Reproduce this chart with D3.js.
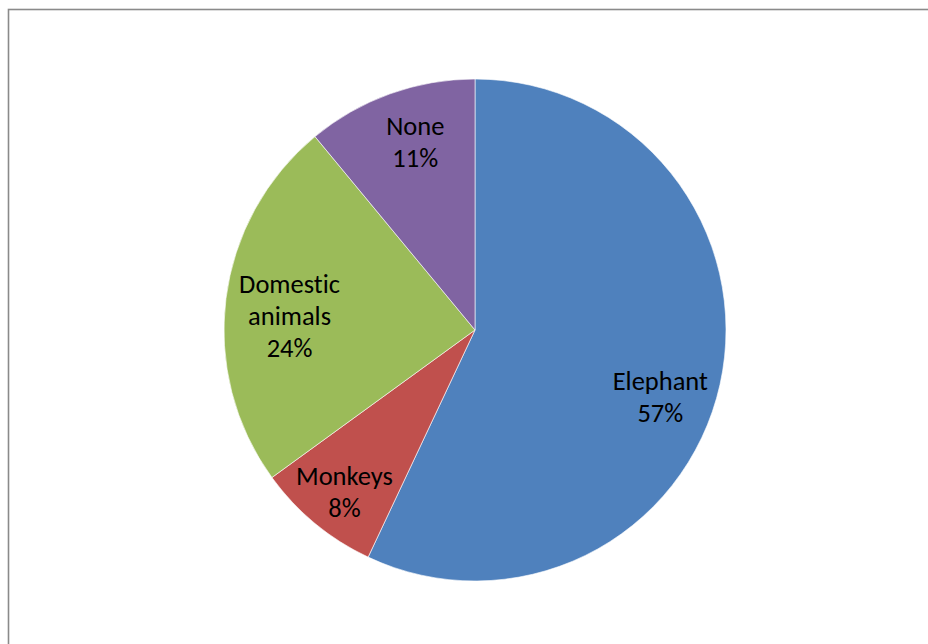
<!DOCTYPE html>
<html>
<head>
<meta charset="utf-8">
<script src="https://cdn.jsdelivr.net/npm/d3@7"></script>
<style>
  html, body { margin: 0; padding: 0; background: #fff; }
  svg { display: block; }
  text { font-variant-ligatures: none; font-feature-settings: "liga" 0; }
</style>
</head>
<body>
<svg id="chart" width="928" height="644"></svg>
<script>
// Animal categories and their share (percent)
const categories = ["Elephant", "Monkeys", "Domestic animals", "None"];
const shares = [57, 8, 24, 11];
const colors = ["#4F81BD", "#C0504D", "#9BBB59", "#8064A2"];

const width = 928, height = 644;
const cx = 475, cy = 330, radius = 251;

const svg = d3.select("#chart");

// chart frame (only top and left edges fall inside the page)
svg.append("rect")
  .attr("x", 8.5).attr("y", 9.5)
  .attr("width", 940).attr("height", 660)
  .attr("fill", "none")
  .attr("stroke", "#8a8a8a")
  .attr("stroke-width", 1.6);

const data = categories.map((c, i) => ({ name: c, value: shares[i], color: colors[i] }));

const pie = d3.pie().value(d => d.value).sort(null);
const arcs = pie(data);

const arc = d3.arc().innerRadius(0).outerRadius(radius);
const labelArc = d3.arc().innerRadius(radius * 0.785).outerRadius(radius * 0.785);

const g = svg.append("g").attr("transform", `translate(${cx},${cy})`);

g.selectAll("path.slice")
  .data(arcs)
  .join("path")
  .attr("class", "slice")
  .attr("d", arc)
  .attr("fill", d => d.data.color)
  .attr("stroke", "#ffffff")
  .attr("stroke-width", 0.6);

const fontSize = 26.5;
const lineH = 32;

// best-fit shifts of each label box away from the plain centroid
const labelShift = {
  "Elephant": [-7, 24],
  "Monkeys": [-5, 10],
  "Domestic animals": [10, 10],
  "None": [7, -3]
};

// label text: words of the category wrap like the slice label box, then the percent
function labelLines(d) {
  const words = d.data.name.split(" ");
  return [...words, d.data.value + "%"];
}

g.selectAll("text.label")
  .data(arcs)
  .join("text")
  .attr("class", "label")
  .attr("font-family", "Carlito, Lato, 'Open Sans', sans-serif")
  .attr("font-size", fontSize)
  .attr("fill", "#000")
  .attr("text-anchor", "middle")
  .each(function(d) {
    const [bx, by] = labelArc.centroid(d);
    const [sx, sy] = labelShift[d.data.name] || [0, 0];
    const x = bx + sx, y = by + sy;
    const lines = labelLines(d);
    const t = d3.select(this);
    const y0 = y - (lines.length - 1) * lineH / 2;
    lines.forEach((ln, i) => {
      t.append("tspan")
        .attr("x", x)
        .attr("y", y0 + i * lineH)
        .attr("dy", "0.35em")
        .text(ln);
    });
  });
</script>
</body>
</html>
